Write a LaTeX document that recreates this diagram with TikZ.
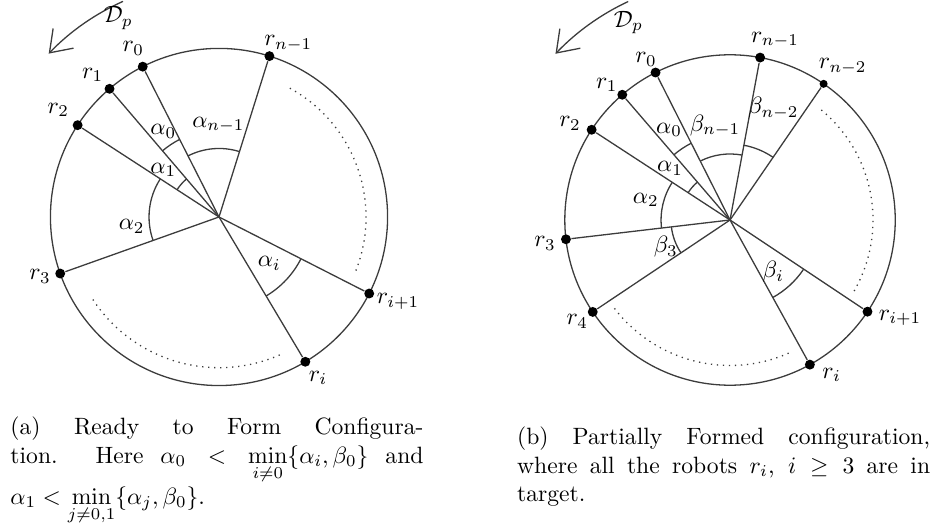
\documentclass[tikz,border=0pt]{standalone}
\usetikzlibrary{arrows.meta}
\definecolor{cLine}{HTML}{3C3C3C}

\begin{document}
\begin{tikzpicture}[
    x=1cm, y=1cm,
    rim/.style={draw=cLine, line width=0.55pt},
    spoke/.style={draw=cLine, line width=0.55pt},
    ang/.style={draw=cLine, line width=0.55pt},
    gap/.style={draw=cLine, dotted, line width=0.55pt},
    dir/.style={draw=cLine, line width=0.55pt,
                -{Straight Barb[length=8.5pt, width=12pt]}},
    robot/.style={circle, fill=black, inner sep=0pt, minimum size=4.2pt},
    lbl/.style={inner sep=0pt},
    capt/.style={text width=6.15cm, align=justify, inner sep=0pt,
                 anchor=north west,
                 execute at begin node={\relpenalty=10000 \binoppenalty=10000}},
]
\useasboundingbox (0,0) rectangle (13.922,7.847);

% ===================== (a) Ready to Form =====================
\begin{scope}[shift={(3.261,4.616)}]
\coordinate (cA) at (0,0);
\draw[rim] (0,0) circle[radius=2.51];

\node[robot] (rA0) at (116.9:2.51) {};
\node[robot] (rA1) at (130.5:2.51) {};
\node[robot] (rA2) at (147.0:2.51) {};
\node[robot] (rA3) at (199.6:2.51) {};
\node[robot] (rAi) at (300.8:2.51) {};
\node[robot] (rAj) at (333.0:2.51) {};
\node[robot] (rAn) at (72.6:2.51) {};

\foreach \r in {rA0, rA1, rA2, rA3, rAi, rAj, rAn}
  \draw[spoke] (cA) -- (\r);

% angles
\draw[ang] (116.9:1.295) arc[start angle=116.9, end angle=130.5, radius=1.295];
\draw[ang] (130.5:0.745) arc[start angle=130.5, end angle=147.0, radius=0.745];
\draw[ang] (147.0:1.042) arc[start angle=147.0, end angle=199.6, radius=1.042];
\draw[ang] (72.6:1.020) arc[start angle=72.6, end angle=116.9, radius=1.020];
\draw[ang] (300.8:1.370) arc[start angle=300.8, end angle=333.0, radius=1.370];

% robots not shown
\draw[gap] (-21.4:2.189) arc[start angle=-21.4, end angle=62.4, radius=2.189];
\draw[gap] (213.2:2.244) arc[start angle=213.2, end angle=294.0, radius=2.244];

% direction
\draw[dir] (114.0:3.514) arc[start angle=114.0, end angle=136.2, radius=3.514];
\node[lbl] (dA) at (-1.499,2.959) {$\mathcal{D}_p$};

\node[lbl] (lA0) at (-1.276,2.512) {$r_0$};
\node[lbl] (lA1) at (-1.881,2.114) {$r_1$};
\node[lbl] (lA2) at (-2.393,1.593) {$r_2$};
\node[lbl] (lA3) at (-2.665,-0.889) {$r_3$};
\node[lbl] (lAj) at (2.665,-1.261) {$r_{i+1}$};
\node[lbl] (lAi) at (1.474,-2.397) {$r_i$};
\node[lbl] (lAn) at (1.032,2.586) {$r_{n-1}$};

\node[lbl] (gA0) at (-0.829,1.270) {$\alpha_0$};
\node[lbl] (gA1) at (-0.829,0.700) {$\alpha_1$};
\node[lbl] (gAn) at (-0.010,1.370) {$\alpha_{n-1}$};
\node[lbl] (gA2) at (-1.300,-0.144) {$\alpha_2$};
\node[lbl] (gAi) at (0.749,-0.689) {$\alpha_i$};
\end{scope}

% ===================== (b) Partially Formed =====================
\begin{scope}[shift={(10.870,4.571)}]
\coordinate (cB) at (0,0);
\draw[rim] (0,0) circle[radius=2.46];

\node[robot] (rB0) at (116.8:2.46) {};
\node[robot] (rB1) at (130.7:2.46) {};
\node[robot] (rB2) at (146.9:2.46) {};
\node[robot] (rB3) at (186.7:2.46) {};
\node[robot] (rB4) at (213.8:2.46) {};
\node[robot] (rBi) at (298.9:2.46) {};
\node[robot] (rBj) at (326.3:2.46) {};
\node[robot] (rBn) at (79.5:2.46) {};
\node[robot, minimum size=3.4pt] (rBm) at (55.5:2.46) {};

\foreach \r in {rB0, rB1, rB2, rB3, rB4, rBi, rBj, rBn, rBm}
  \draw[spoke] (cB) -- (\r);

% angles
\draw[ang] (116.8:1.281) arc[start angle=116.8, end angle=130.7, radius=1.281];
\draw[ang] (130.7:0.745) arc[start angle=130.7, end angle=146.9, radius=0.745];
\draw[ang] (146.9:1.027) arc[start angle=146.9, end angle=186.7, radius=1.027];
\draw[ang] (186.7:0.879) arc[start angle=186.7, end angle=213.8, radius=0.879];
\draw[ang] (79.5:0.983) arc[start angle=79.5, end angle=116.8, radius=0.983];
\draw[ang] (55.5:1.132) arc[start angle=55.5, end angle=79.5, radius=1.132];
\draw[ang] (298.9:1.318) arc[start angle=298.9, end angle=326.3, radius=1.318];

% robots not shown
\draw[gap] (-29.8:2.129) arc[start angle=-29.8, end angle=50.5, radius=2.129];
\draw[gap] (217.4:2.166) arc[start angle=217.4, end angle=295.5, radius=2.166];

% direction
\draw[dir] (115.0:3.589) arc[start angle=115.0, end angle=136.4, radius=3.589];
\node[lbl] (dB) at (-1.514,2.938) {$\mathcal{D}_p$};

\node[lbl] (lB0) at (-1.251,2.393) {$r_0$};
\node[lbl] (lB1) at (-1.836,2.010) {$r_1$};
\node[lbl] (lB2) at (-2.382,1.440) {$r_2$};
\node[lbl] (lB3) at (-2.755,-0.347) {$r_3$};
\node[lbl] (lB4) at (-2.274,-1.514) {$r_4$};
\node[lbl] (lBi) at (1.514,-2.308) {$r_i$};
\node[lbl] (lBj) at (2.531,-1.455) {$r_{i+1}$};
\node[lbl] (lBn) at (0.670,2.680) {$r_{n-1}$};
\node[lbl] (lBm) at (1.678,2.283) {$r_{n-2}$};

\node[lbl] (gB0) at (-0.908,1.340) {$\alpha_0$};
\node[lbl] (gB1) at (-0.893,0.770) {$\alpha_1$};
\node[lbl] (gB2) at (-1.255,0.298) {$\alpha_2$};
\node[lbl] (gB3) at (-0.957,-0.398) {$\beta_3$};
\node[lbl] (gBn) at (-0.223,1.400) {$\beta_{n-1}$};
\node[lbl] (gBm) at (0.645,1.663) {$\beta_{n-2}$};
\node[lbl] (gBi) at (0.645,-0.770) {$\beta_i$};
\end{scope}

% ===================== Captions =====================
\node[capt] (captA) at (0.149,1.642)
  {(a) Ready to Form Configura-\linebreak tion. Here
   $\alpha_0 < \min\limits_{i\neq 0}\{\alpha_i,\beta_0\}$ and
   $\alpha_1 < \min\limits_{j\neq 0,1}\{\alpha_j,\beta_0\}$.};
\node[capt] (captB) at (7.693,1.493)
  {(b) Partially Formed configuration, where all the robots
   $r_i$, $i\geq 3$ are in \mbox{target.}};

\end{tikzpicture}
\end{document}
